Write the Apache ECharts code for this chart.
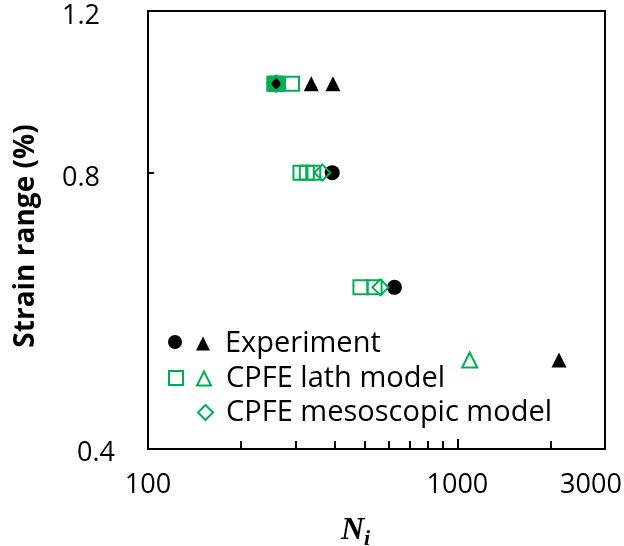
<!DOCTYPE html>
<html>
<head>
<meta charset="utf-8">
<script src="https://cdn.jsdelivr.net/npm/echarts@6/dist/echarts.min.js"></script>
<style>html,body{margin:0;padding:0;background:#fff}#c{width:624px;height:546px}</style>
</head>
<body>
<div id="c"></div>
<script>
// ---- data (N_i, strain range %) ----
const expCircles = [[258, 1.0], [394, 0.8], [626, 0.6]];
const expTriangles = [[337, 1.0], [396, 1.0], [2130, 0.5]];
const lathSquares = [[256, 1.0], [259, 1.0], [262, 1.0], [292, 1.0], [311, 0.8], [326, 0.8], [342, 0.8], [486, 0.6], [540, 0.6]];
const lathTriangles = [[1096, 0.5]];
const mesoDiamonds = [[258, 1.0], [261, 1.0], [366, 0.8], [564, 0.6]];
const xTickLabels = [100, 1000, 3000];
const xMinorTicks = [200, 300, 400, 500, 600, 700, 800, 900, 2000];
const xMajorTicks = [1000];
const yTickLabelsUpper = [0.8, 1.2];
const yTickLabelsLower = [0.4];
const yTicks = [0.8];

const GREEN = '#00B050';
const FONT = 'Open Sans';
const FS = 27;
const LFS = 29;
const chart = echarts.init(document.getElementById('c'), null, {renderer: 'canvas'});

function nearest(arr, v) {
  let best = arr[0];
  for (const a of arr) if (Math.abs(a - v) < Math.abs(best - v)) best = a;
  return best;
}

const openStyle = {color: 'rgba(255,255,255,0)', borderColor: GREEN, borderWidth: 2, opacity: 1};
function legendText(pad) {
  return {fontFamily: FONT, fontSize: LFS, color: '#000', rich: {t: {fontFamily: FONT, fontSize: LFS, color: '#000', padding: [0, 0, 0, pad]}}};
}
const yAxisBase = {
  type: 'log', logBase: 10, min: 0.4, max: 1.2, position: 'left',
  splitLine: {show: false}
};

const option = {
  animation: false,
  backgroundColor: '#fff',
  grid: {left: 148, top: 11, right: 19, bottom: 97, show: true, borderColor: '#000', borderWidth: 2, containLabel: false, outerBoundsMode: 'none'},
  xAxis: [{
    type: 'log', logBase: 10, min: 100, max: 3000, position: 'bottom',
    axisLine: {show: true, lineStyle: {color: '#000', width: 2}},
    axisTick: {show: true, inside: true, length: 8, lineStyle: {color: '#000', width: 2}, customValues: xMinorTicks},
    axisLabel: {
      show: true, margin: 23, color: '#000', fontFamily: FONT, fontSize: FS,
      customValues: xTickLabels,
      formatter: function (v) {
        const s = nearest(xTickLabels, v);
        return s === 3000 ? '{r|3000}' : '{n|' + s + '}';
      },
      rich: {n: {fontFamily: FONT, fontSize: FS, color: '#000'}, r: {fontFamily: FONT, fontSize: FS, color: '#000', padding: [0, 28, 0, 0]}}
    },
    splitLine: {show: false},
    name: '{n|N}{i|i}', nameLocation: 'middle', nameGap: 63,
    nameTextStyle: {padding: [0, 42, 0, 0], rich: {
      n: {fontFamily: 'Liberation Serif', fontWeight: 'bold', fontStyle: 'italic', fontSize: 32, color: '#000'},
      i: {fontFamily: 'Liberation Serif', fontWeight: 'bold', fontStyle: 'italic', fontSize: 22, color: '#000', padding: [16, 0, 0, 0]}
    }}
  }, {
    type: 'log', logBase: 10, min: 100, max: 3000, position: 'bottom',
    axisLine: {show: false},
    axisTick: {show: true, inside: true, length: 10, lineStyle: {color: '#000', width: 2}, customValues: xMajorTicks},
    axisLabel: {show: false},
    splitLine: {show: false}
  }],
  yAxis: [Object.assign({}, yAxisBase, {
    axisLine: {show: true, lineStyle: {color: '#000', width: 2}},
    axisTick: {show: true, inside: true, length: 6, lineStyle: {color: '#000', width: 2}, customValues: yTicks},
    axisLabel: {
      show: true, margin: 48, color: '#000', fontFamily: FONT, fontSize: FS,
      customValues: yTickLabelsUpper,
      formatter: function (v) { return '{a|' + nearest(yTickLabelsUpper, v).toFixed(1) + '}'; },
      rich: {a: {fontFamily: FONT, fontSize: FS, color: '#000', padding: [11, 0, 0, 0]}}
    },
    name: 'Strain range (%)', nameLocation: 'middle', nameGap: 108, nameRotate: 90,
    nameTextStyle: {fontFamily: FONT, fontWeight: 'bold', fontSize: 28, color: '#000', padding: [0, 12, 0, 0]}
  }), Object.assign({}, yAxisBase, {
    axisLine: {show: false},
    axisTick: {show: false},
    axisLabel: {
      show: true, margin: 33, color: '#000', fontFamily: FONT, fontSize: FS,
      customValues: yTickLabelsLower,
      formatter: function (v) { return '{b|' + nearest(yTickLabelsLower, v).toFixed(1) + '}'; },
      rich: {b: {fontFamily: FONT, fontSize: FS, color: '#000', padding: [8, 0, 0, 0]}}
    }
  })],
  legend: [
    {data: ['Experiment (circle)'], left: 168, top: 335, padding: 0, itemWidth: 14, itemHeight: 14, formatter: () => '', textStyle: {fontSize: 1}},
    {data: ['Experiment'], left: 196, top: 329, padding: 0, itemWidth: 14, itemHeight: 14, formatter: '{t|{name}}', textStyle: legendText(10)},
    {data: ['CPFE lath model (square)'], left: 168, top: 370, padding: 0, itemWidth: 14, itemHeight: 14, formatter: () => '', textStyle: {fontSize: 1}},
    {data: ['CPFE lath model'], left: 196, top: 364, padding: 0, itemWidth: 14, itemHeight: 14, formatter: '{t|{name}}', textStyle: legendText(10)},
    {data: ['CPFE mesoscopic model'], left: 197, top: 398, padding: 0, itemWidth: 15, itemHeight: 15, formatter: '{t|{name}}', textStyle: legendText(8)}
  ],
  series: [
    {name: 'Experiment (circle)', type: 'scatter', data: expCircles, symbol: 'circle', symbolSize: 15, itemStyle: {color: '#000', opacity: 1}, z: 2},
    {name: 'Experiment', type: 'scatter', data: expTriangles, symbol: 'triangle', symbolSize: 15, itemStyle: {color: '#000', opacity: 1}, z: 2},
    {name: 'CPFE lath model (square)', type: 'scatter', data: lathSquares, symbol: 'rect', symbolSize: 14, itemStyle: openStyle, z: 3},
    {name: 'CPFE lath model', type: 'scatter', data: lathTriangles, symbol: 'triangle', symbolSize: 15, itemStyle: openStyle, z: 3},
    {name: 'CPFE mesoscopic model', type: 'scatter', data: mesoDiamonds, symbol: 'diamond', symbolSize: 16, itemStyle: openStyle, z: 3}
  ]
};
chart.setOption(option);
</script>
</body>
</html>
